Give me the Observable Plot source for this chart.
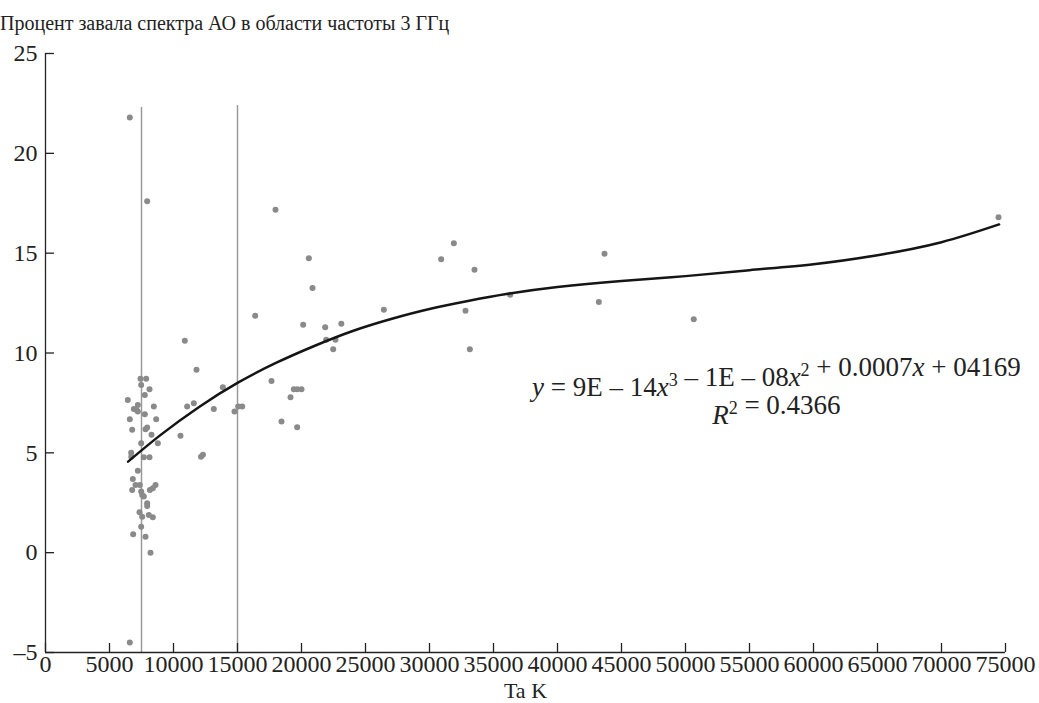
<!DOCTYPE html>
<html><head><meta charset="utf-8">
<script src="https://cdn.jsdelivr.net/npm/d3@7"></script>
<script src="https://cdn.jsdelivr.net/npm/@observablehq/plot@0.6"></script>
<style>
body{margin:0;background:#fff;font-family:"Liberation Serif",serif;color:#222;overflow:hidden;}
#title{height:32px;box-sizing:border-box;padding-top:13px;font-size:20px;line-height:20px;white-space:nowrap;}
svg text{font-family:"Liberation Serif",serif !important;}
#chart svg{display:block;}
</style></head>
<body>
<div id="title">Процент завала спектра АО в области частоты 3 ГГц</div>
<div id="chart"></div>
<script>
// scatter data: Ta K (x) and percent (y)
const taK = [6589,7943,7422,7866,7474,8125,7760,6432,7214,8464,6901,7109,7214,7760,6589,8646,6771,7812,7943,8281,8776,7474,6693,6700,7682,8125,7214,6823,7031,7370,6771,7474,8151,8385,8594,7552,7682,7943,7943,7344,7552,8073,8385,7474,6849,7812,8203,6589,
  10547,11068,11589,11797,10885,13150,12150,12300,13854,14766,15052,15365,16380,17656,17969,18437,19141,19401,19661,20000,19661,20130,20573,20860,21850,21927,22656,22474,23112,26432,30911,31901,33516,32812,33151,36302,43672,43229,50646,74453];
const pct = [21.8,17.6,8.71,8.71,8.4,8.19,7.9,7.65,7.4,7.32,7.2,7.15,7.07,6.93,6.68,6.68,6.15,6.18,6.27,5.9,5.48,5.48,5.01,4.8,4.78,4.78,4.1,3.69,3.39,3.39,3.14,3.06,3.14,3.22,3.39,2.89,2.81,2.47,2.34,2.02,1.8,1.89,1.77,1.3,0.92,0.8,0.0,-4.5,
  5.86,7.32,7.48,9.16,10.61,7.2,4.8,4.9,8.29,7.07,7.32,7.32,11.87,8.6,17.18,6.57,7.79,8.19,8.19,8.19,6.28,11.41,14.75,13.25,11.29,10.66,10.66,10.19,11.46,12.16,14.7,15.5,14.17,12.11,10.19,12.92,14.97,12.55,11.69,16.8];
// polynomial trend line
const trendX = [6450,9000,12000,15000,18000,21000,24000,27000,30000,33000,36000,40000,45000,50000,55000,60000,65000,70000,74500];
const trendY = [4.56,5.9,7.3,8.5,9.5,10.35,11.1,11.7,12.2,12.6,12.95,13.3,13.6,13.85,14.15,14.45,14.9,15.55,16.44];
// vertical reference lines
const refX = [7500, 15000];
const refTop = [22.3, 22.4];
// ticks
const xTicks = [0,5000,10000,15000,20000,25000,30000,35000,40000,45000,50000,55000,60000,65000,70000,75000];
const yTicks = [-5,0,5,10,15,20,25];
const xLabel = "Ta K";
const eqLine1 = "y = 9E – 14x3 – 1E – 08x2 + 0.0007x + 04169";
const eqLine2 = "R2 = 0.4366";
const eqX = 57100, eqY1 = 8.27, eqY2 = 6.87;

const points = taK.map((x, i) => ({x, y: pct[i]}));
const trend = trendX.map((x, i) => ({x, y: trendY[i]}));
const refs = refX.map((x, i) => ({x, top: refTop[i]}));

const W = 1039, H = 671, mt = 21, mb = 51, ml = 45, mr = 34;
const plotW = W - ml - mr, plotH = H - mt - mb;
const serif = "Liberation Serif, serif";

const chart = Plot.plot({
  width: W, height: H,
  marginTop: mt, marginBottom: mb, marginLeft: ml, marginRight: mr,
  style: {fontFamily: serif, fontSize: "24px", color: "#222", background: "#fff", overflow: "visible"},
  x: {domain: [0, 75000], ticks: xTicks, tickSize: 0, tickPadding: 2, tickFormat: "d", label: null},
  y: {domain: [-5, 25], ticks: yTicks, tickSize: 0, tickPadding: 8, tickFormat: d => d < 0 ? "–" + Math.abs(d) : String(d), label: null},
  marks: [
    Plot.ruleX(refs, {x: "x", y1: -5, y2: "top", stroke: "#9a9a9a", strokeWidth: 1.5}),
    Plot.dot(points, {x: "x", y: "y", r: 3, fill: "#8a8a8a", stroke: "none"}),
    Plot.line(trend, {x: "x", y: "y", curve: "natural", stroke: "#151515", strokeWidth: 2.5}),
    Plot.ruleY([-5], {stroke: "#222", strokeWidth: 1.3}),
    Plot.ruleX([0], {stroke: "#222", strokeWidth: 1.3}),
    Plot.tickX(xTicks, {x: d => d, insetTop: plotH - 9, stroke: "#222", strokeWidth: 1.3}),
    Plot.tickY(yTicks, {y: d => d, insetRight: plotW - 9, stroke: "#222", strokeWidth: 1.3}),
    Plot.text([xLabel], {frameAnchor: "bottom", dy: 30, lineAnchor: "top", fontSize: 22, fill: "#222", fontFamily: serif}),
    Plot.text([eqLine1], {x: eqX, y: eqY1, fontSize: 27, fill: "#222", textAnchor: "middle", fontFamily: serif}),
    Plot.text([eqLine2], {x: eqX, y: eqY2, fontSize: 27, fill: "#222", textAnchor: "middle", fontFamily: serif})
  ]
});
document.getElementById("chart").appendChild(chart);

// rich formatting (italics, superscripts) for the regression annotation
const I = s => `<tspan font-style="italic">${s}</tspan>`;
const SUP = s => `<tspan dy="-10" style="font-size:18px">${s}</tspan><tspan dy="10"></tspan>`;
chart.querySelectorAll("text").forEach(t => {
  if (t.textContent === eqLine1) {
    t.innerHTML = `${I("y")} = 9E – 14${I("x")}${SUP("3")} – 1E – 08${I("x")}${SUP("2")} + 0.0007${I("x")} + 04169`;
  } else if (t.textContent === eqLine2) {
    t.innerHTML = `${I("R")}${SUP("2")} = 0.4366`;
  }
});
</script>
</body></html>
